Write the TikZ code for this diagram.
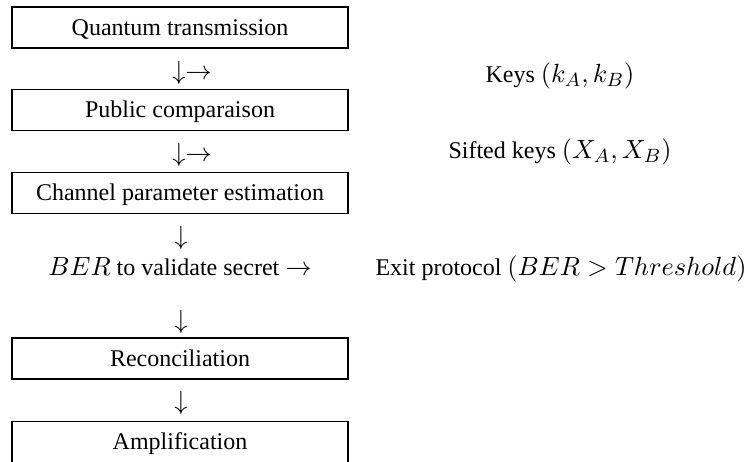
\documentclass[tikz,border=0pt]{standalone}
\usepackage[no-math]{fontspec}
\setmainfont{Liberation Serif}
\DeclareMathSizes{10}{10.95}{8}{6}
\begin{document}
\begin{tikzpicture}[x=0.41667pt,y=-0.41667pt,
  stepbox/.style={draw,line width=0.5pt,inner sep=0pt,minimum width=140pt,minimum height=17.08pt,text height=6.5pt,text depth=0pt},
  lbl/.style={inner sep=0pt}]
\useasboundingbox (0,0) rectangle (755,461);
\clip (0,0) rectangle (755,461);
\node[stepbox] (qt) at (180,27.5) {Quantum transmission};
\node[stepbox] (pc) at (180,110) {Public comparaison};
\node[stepbox] (cp) at (180,193) {Channel parameter estimation};
\node[stepbox] (rc) at (180,358.5) {Reconciliation};
\node[stepbox] (am) at (180,441.8) {Amplification};
\node[lbl] (a1) at (192,73) {$\downarrow\rightarrow$};
\node[lbl] (a2) at (192,155) {$\downarrow\rightarrow$};
\node[lbl] (a3) at (181,238) {$\downarrow$};
\node[lbl] (a4) at (181,322) {$\downarrow$};
\node[lbl] (a5) at (181,403) {$\downarrow$};
\node[lbl,anchor=base] (k) at (560,82) {Keys $(k_A,k_B)$};
\node[lbl,anchor=base] (sk) at (560,158) {Sifted keys $(X_A,X_B)$};
\node[lbl,anchor=base] (ber) at (180,275) {$BER$ to validate secret $\rightarrow$};
\node[lbl,anchor=base] (ex) at (561,275) {Exit protocol $(BER>Threshold)$};
\end{tikzpicture}
\end{document}
